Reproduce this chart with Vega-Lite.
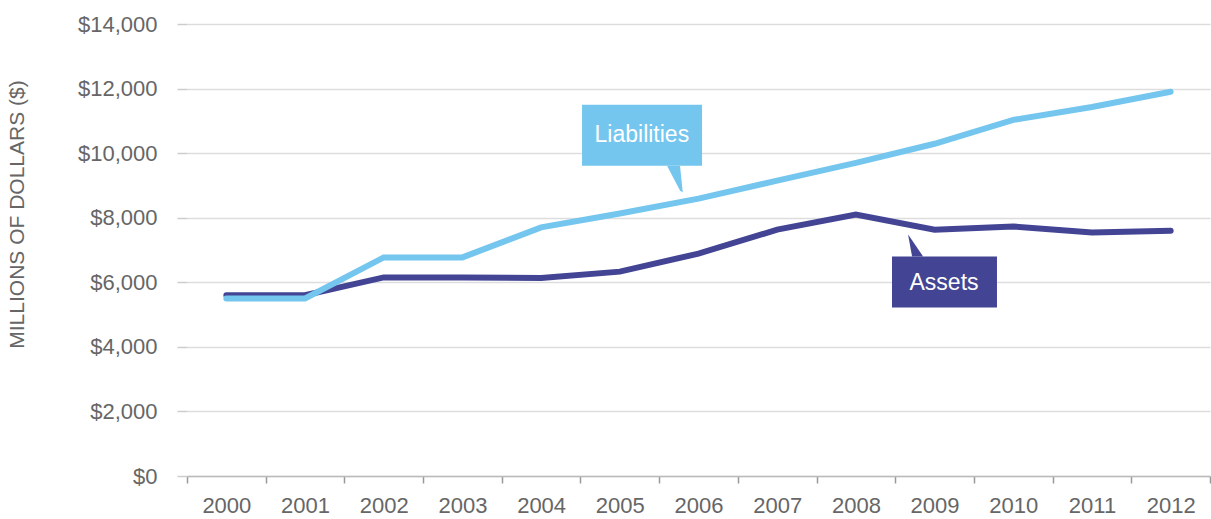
{
  "$schema": "https://vega.github.io/schema/vega-lite/v6.json",
  "width": 1023,
  "height": 452,
  "autosize": {"type": "none"},
  "padding": {"left": 187, "top": 24, "right": 1, "bottom": 43},
  "background": "white",
  "config": {
    "view": {"stroke": null},
    "axis": {"labelFont": "Liberation Sans", "labelFontWeight": "normal", "labelFontSize": 22, "labelColor": "#666666", "titleFont": "Liberation Sans", "titleFontWeight": "normal", "titleFontSize": 21, "titleColor": "#666666"}
  },
  "datasets": {
    "series": [
      {"year": 2000, "series": "Liabilities", "value": 5500},
      {"year": 2001, "series": "Liabilities", "value": 5500},
      {"year": 2002, "series": "Liabilities", "value": 6770},
      {"year": 2003, "series": "Liabilities", "value": 6770},
      {"year": 2004, "series": "Liabilities", "value": 7700},
      {"year": 2005, "series": "Liabilities", "value": 8130},
      {"year": 2006, "series": "Liabilities", "value": 8590},
      {"year": 2007, "series": "Liabilities", "value": 9150},
      {"year": 2008, "series": "Liabilities", "value": 9700},
      {"year": 2009, "series": "Liabilities", "value": 10290},
      {"year": 2010, "series": "Liabilities", "value": 11030},
      {"year": 2011, "series": "Liabilities", "value": 11430},
      {"year": 2012, "series": "Liabilities", "value": 11900},
      {"year": 2000, "series": "Assets", "value": 5600},
      {"year": 2001, "series": "Assets", "value": 5600},
      {"year": 2002, "series": "Assets", "value": 6150},
      {"year": 2003, "series": "Assets", "value": 6150},
      {"year": 2004, "series": "Assets", "value": 6130},
      {"year": 2005, "series": "Assets", "value": 6330},
      {"year": 2006, "series": "Assets", "value": 6890},
      {"year": 2007, "series": "Assets", "value": 7630},
      {"year": 2008, "series": "Assets", "value": 8100},
      {"year": 2009, "series": "Assets", "value": 7630},
      {"year": 2010, "series": "Assets", "value": 7730},
      {"year": 2011, "series": "Assets", "value": 7540},
      {"year": 2012, "series": "Assets", "value": 7600}
    ],
    "boxes": [
      {"series": "Liabilities", "year": 2004.52, "year2": 2006.045, "value": 11500, "value2": 9610},
      {"series": "Assets", "year": 2008.459, "year2": 2009.793, "value": 6800, "value2": 5220}
    ],
    "pointers": [
      {"series": "Liabilities", "year": 2005.60, "value": 9610, "value2": 9610},
      {"series": "Liabilities", "year": 2005.765, "value": 9610, "value2": 8840},
      {"series": "Liabilities", "year": 2005.80, "value": 8780, "value2": 8780},
      {"series": "Assets", "year": 2008.663, "value": 7480, "value2": 7480},
      {"series": "Assets", "year": 2008.714, "value": 7300, "value2": 6800},
      {"series": "Assets", "year": 2008.854, "value": 6800, "value2": 6800}
    ],
    "labels": [
      {"series": "Liabilities", "year": 2005.28, "value": 10570},
      {"series": "Assets", "year": 2009.12, "value": 5990}
    ]
  },
  "layer": [
    {
      "data": {"name": "series"},
      "transform": [{"filter": "datum.series === 'Assets'"}],
      "mark": {"type": "line", "strokeWidth": 6, "strokeCap": "round", "strokeJoin": "miter"},
      "encoding": {
        "x": {"field": "year", "type": "quantitative", "scale": {"domain": [1999.5, 2012.5], "nice": false, "zero": false},
          "axis": {"title": null, "values": [1999.5, 2000.5, 2001.5, 2002.5, 2003.5, 2004.5, 2005.5, 2006.5, 2007.5, 2008.5, 2009.5, 2010.5, 2011.5, 2012.5],
            "labelExpr": "datum.value < 2012 ? format(datum.value + 0.5, 'd') : ''", "labelOffset": 39.35, "labelFlush": false, "labelOverlap": false, "labelBound": false,
            "grid": false, "domain": true, "domainColor": "#bbbbbb", "domainWidth": 1.5, "ticks": true, "tickColor": "#999999", "tickSize": 7, "tickWidth": 1.5, "labelPadding": 12}},
        "y": {"field": "value", "type": "quantitative", "scale": {"domain": [0, 14000], "nice": false},
          "axis": {"title": "MILLIONS OF DOLLARS ($)", "values": [0, 2000, 4000, 6000, 8000, 10000, 12000, 14000], "format": "$,.0f",
            "grid": true, "gridColor": "#dddddd", "gridWidth": 1.5, "domain": false, "ticks": true, "tickColor": "#cccccc", "tickSize": 10, "tickWidth": 1.5, "labelPadding": 20,
            "titleX": -170, "titleY": 190, "titleAlign": "center", "titleBaseline": "middle", "titleAngle": -90}},
        "color": {"field": "series", "type": "nominal", "scale": {"domain": ["Liabilities", "Assets"], "range": ["#74C6EE", "#434594"]}, "legend": null}
      }
    },
    {
      "data": {"name": "series"},
      "transform": [{"filter": "datum.series === 'Liabilities'"}],
      "mark": {"type": "line", "strokeWidth": 6, "strokeCap": "round", "strokeJoin": "miter"},
      "encoding": {
        "x": {"field": "year", "type": "quantitative"},
        "y": {"field": "value", "type": "quantitative"},
        "color": {"field": "series", "type": "nominal", "legend": null}
      }
    },
    {
      "data": {"name": "boxes"},
      "mark": {"type": "rect", "opacity": 1},
      "encoding": {
        "x": {"field": "year", "type": "quantitative"},
        "x2": {"field": "year2"},
        "y": {"field": "value", "type": "quantitative"},
        "y2": {"field": "value2"},
        "color": {"field": "series", "type": "nominal", "legend": null}
      }
    },
    {
      "data": {"name": "pointers"},
      "mark": {"type": "area", "opacity": 1, "interpolate": "linear"},
      "encoding": {
        "x": {"field": "year", "type": "quantitative"},
        "y": {"field": "value", "type": "quantitative"},
        "y2": {"field": "value2"},
        "color": {"field": "series", "type": "nominal", "legend": null}
      }
    },
    {
      "data": {"name": "labels"},
      "mark": {"type": "text", "font": "Liberation Sans", "fontWeight": "normal", "fontSize": 23, "color": "white", "align": "center", "baseline": "middle"},
      "encoding": {
        "x": {"field": "year", "type": "quantitative"},
        "y": {"field": "value", "type": "quantitative"},
        "text": {"field": "series"}
      }
    }
  ]
}
